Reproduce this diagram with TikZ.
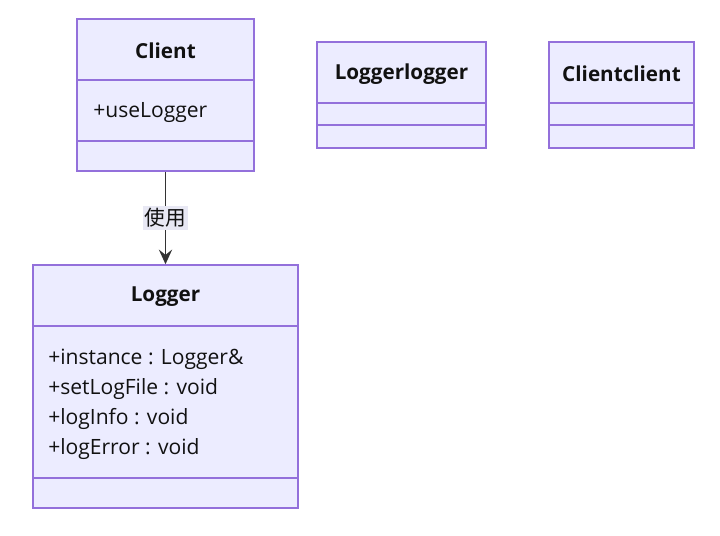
\documentclass[tikz,border=0pt]{standalone}
\usepackage{fontspec}
\setmainfont{Open Sans}
\newfontfamily\cjk{Noto Sans CJK SC}
\usetikzlibrary{arrows.meta}
\definecolor{boxfill}{HTML}{ECECFF}
\definecolor{boxline}{HTML}{9370DB}
\definecolor{txt}{HTML}{111111}
\definecolor{edge}{HTML}{333333}
\definecolor{lblbg}{HTML}{E8E8F4}
\tikzset{
  umlbox/.style={draw=boxline, fill=boxfill, line width=1.15pt, inner sep=0pt},
  divider/.style={draw=boxline, line width=1.15pt},
  ttl/.style={font=\fontsize{15.5pt}{18pt}\selectfont\bfseries, text=txt, inner sep=0pt},
  mem/.style={font=\fontsize{15.8pt}{18pt}\selectfont, text=txt, inner sep=0pt, anchor=west},
  arr/.style={draw=edge, line width=1pt, -{Stealth[length=11pt,width=10pt,inset=4pt]}},
  lbl/.style={fill=lblbg, font=\cjk\fontsize{15.5pt}{18pt}\selectfont, text=txt, inner sep=1.5pt}
}
\begin{document}
\begin{tikzpicture}[x=0.75pt,y=-0.75pt]
\useasboundingbox (0,0) rectangle (720,535);
% Client
\node[umlbox, minimum width={177*0.75pt}, minimum height={152*0.75pt}] (client) at (165.5,95) {};
\draw[divider] (77,80) -- (254,80);
\draw[divider] (77,141) -- (254,141);
\node[ttl] (clientT) at (165.5,51) {Client};
\node[mem] (clientM) at (93,113) {+useLogger};
% Logger
\node[umlbox, minimum width={265*0.75pt}, minimum height={243*0.75pt}] (logger) at (165.5,386.5) {};
\draw[divider] (33,326) -- (298,326);
\draw[divider] (33,478) -- (298,478);
\node[ttl] (loggerT) at (165.5,297) {Logger};
\node[mem] (m1) at (48,359) {+instance : Logger\&};
\node[mem] (m2) at (48,389) {+setLogFile : void};
\node[mem] (m3) at (48,419) {+logInfo : void};
\node[mem] (m4) at (48,449) {+logError : void};
% Loggerlogger
\node[umlbox, minimum width={169*0.75pt}, minimum height={106*0.75pt}] (ll) at (401.5,95) {};
\draw[divider] (317,103) -- (486,103);
\draw[divider] (317,125) -- (486,125);
\node[ttl] (llT) at (401.5,74) {Loggerlogger};
% Clientclient
\node[umlbox, minimum width={145*0.75pt}, minimum height={106*0.75pt}] (cc) at (621.5,95) {};
\draw[divider] (549,103) -- (694,103);
\draw[divider] (549,125) -- (694,125);
\node[ttl] (ccT) at (621.5,74) {Clientclient};
% edge
\draw[arr] (client.south) -- node[lbl] (uselbl) {使用} (logger.north);
\end{tikzpicture}
\end{document}
